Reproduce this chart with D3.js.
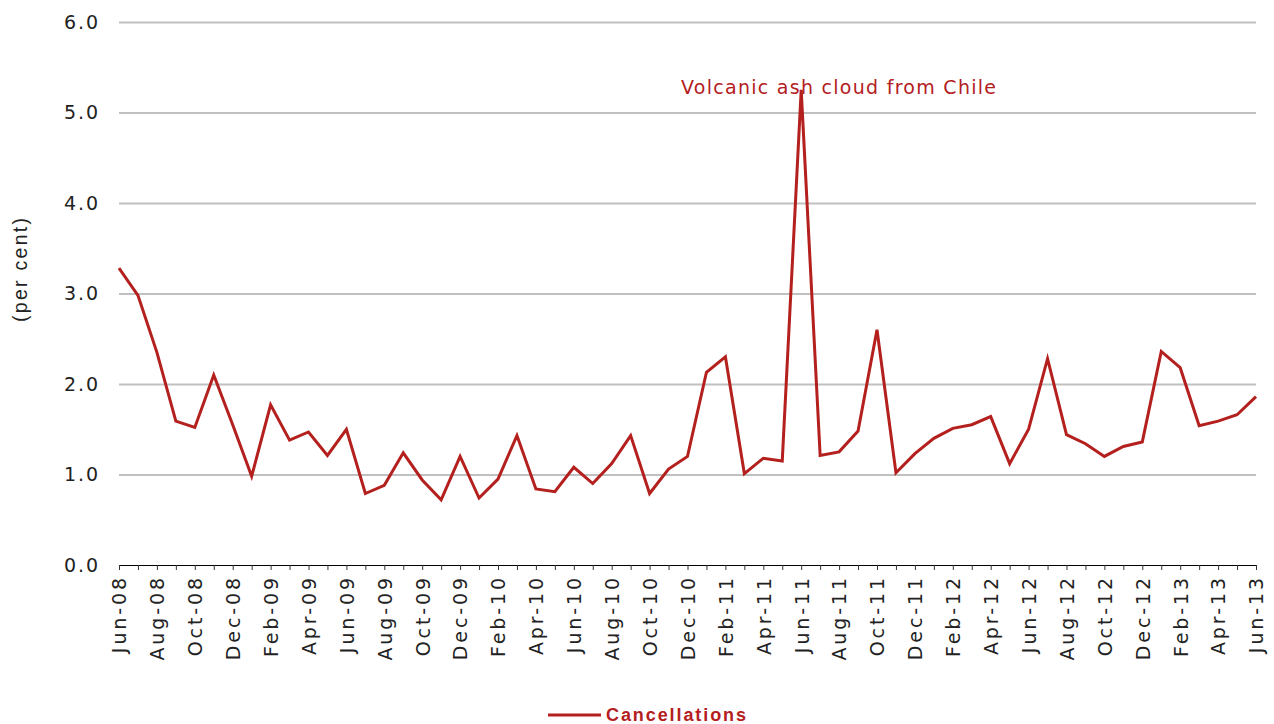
<!DOCTYPE html>
<html><head><meta charset="utf-8">
<script src="https://cdn.jsdelivr.net/npm/d3@7"></script>
<style>
body{margin:0;background:#fff;}
svg{display:block;}
</style></head>
<body><svg id="chart" width="1274" height="724"></svg>
<script>
const months = ["Jun-08","Jul-08","Aug-08","Sep-08","Oct-08","Nov-08","Dec-08","Jan-09","Feb-09","Mar-09","Apr-09","May-09","Jun-09","Jul-09","Aug-09","Sep-09","Oct-09","Nov-09","Dec-09","Jan-10","Feb-10","Mar-10","Apr-10","May-10","Jun-10","Jul-10","Aug-10","Sep-10","Oct-10","Nov-10","Dec-10","Jan-11","Feb-11","Mar-11","Apr-11","May-11","Jun-11","Jul-11","Aug-11","Sep-11","Oct-11","Nov-11","Dec-11","Jan-12","Feb-12","Mar-12","Apr-12","May-12","Jun-12","Jul-12","Aug-12","Sep-12","Oct-12","Nov-12","Dec-12","Jan-13","Feb-13","Mar-13","Apr-13","May-13","Jun-13"];
const cancellations = [3.28,2.98,2.35,1.59,1.52,2.10,1.55,0.98,1.77,1.38,1.47,1.21,1.50,0.79,0.88,1.24,0.94,0.72,1.20,0.74,0.95,1.43,0.84,0.81,1.08,0.90,1.12,1.43,0.79,1.06,1.20,2.13,2.30,1.01,1.18,1.15,5.25,1.21,1.25,1.48,2.60,1.02,1.23,1.40,1.51,1.55,1.64,1.12,1.50,2.28,1.44,1.34,1.20,1.31,1.36,2.36,2.18,1.54,1.59,1.66,1.86];
const yTicks = [0,1,2,3,4,5,6];
const seriesName = "Cancellations";
const annotationText = "Volcanic ash cloud from Chile";
const annotationMonth = "Jun-11";

const svg = d3.select("#chart");
const L = 119, R = 1256, T = 22, B = 565;
const red = "#b3201e";
const tickFont = "'DejaVu Sans', Verdana, sans-serif";
const sansFont = "'Liberation Sans', Arial, sans-serif";

const x = d3.scalePoint().domain(months).range([L, R]);
const y = d3.scaleLinear().domain([0, 6]).range([B, T]);

// gridlines
const grid = svg.append("g").attr("transform", `translate(${L},0)`)
  .call(d3.axisLeft(y).tickValues(yTicks.filter(v => v > 0)).tickSize(-(R - L)).tickFormat(""));
grid.select(".domain").remove();
grid.selectAll("line").attr("stroke", "#c0c0c0").attr("stroke-width", 2);

// y labels
const ya = svg.append("g").attr("transform", `translate(${L},0)`)
  .call(d3.axisLeft(y).tickValues(yTicks).tickSize(0).tickPadding(19).tickFormat(d3.format(".1f")));
ya.select(".domain").remove();
ya.selectAll("text").attr("font-family", tickFont).attr("font-size", 19).attr("fill", "#222")
  .style("letter-spacing", "1.9px");

// x axis
const xa = svg.append("g").attr("transform", `translate(0,${B})`)
  .call(d3.axisBottom(x).tickSize(5).tickFormat((d, i) => i % 2 === 0 ? d : ""));
xa.select(".domain").attr("stroke", "#000").attr("stroke-width", 1.2).attr("d", `M${L},0.5H${R}`);
xa.selectAll("line").attr("stroke", "#333");
xa.selectAll("text")
  .attr("font-family", tickFont).attr("font-size", 19).attr("fill", "#222")
  .style("letter-spacing", "2.9px")
  .attr("text-anchor", "end")
  .attr("transform", "rotate(-90)")
  .attr("x", -10).attr("y", 0).attr("dy", "0.36em");

// y title
svg.append("text").attr("transform", "translate(27,270) rotate(-90)")
  .attr("text-anchor", "middle").attr("font-family", sansFont)
  .attr("font-size", 19.5).attr("fill", "#222")
  .attr("textLength", 104).attr("lengthAdjust", "spacing").text("(per cent)");

// line
const line = d3.line().x((d, i) => x(months[i])).y(d => y(d));
svg.append("path").datum(cancellations).attr("d", line)
  .attr("fill", "none").attr("stroke", red).attr("stroke-width", 3).attr("stroke-linejoin", "miter");

// annotation
svg.append("text").attr("x", 681).attr("y", 94)
  .attr("font-family", tickFont).attr("font-size", 19).attr("fill", red)
  .attr("textLength", 315).attr("lengthAdjust", "spacing")
  .text(annotationText);

// legend
const lg = svg.append("g");
lg.append("line").attr("x1", 548).attr("x2", 601).attr("y1", 715).attr("y2", 715)
  .attr("stroke", red).attr("stroke-width", 3);
lg.append("text").attr("x", 606).attr("y", 721)
  .attr("font-family", sansFont).attr("font-weight", "bold")
  .attr("font-size", 18).attr("fill", red)
  .attr("textLength", 140).attr("lengthAdjust", "spacing").text(seriesName);
</script></body></html>
